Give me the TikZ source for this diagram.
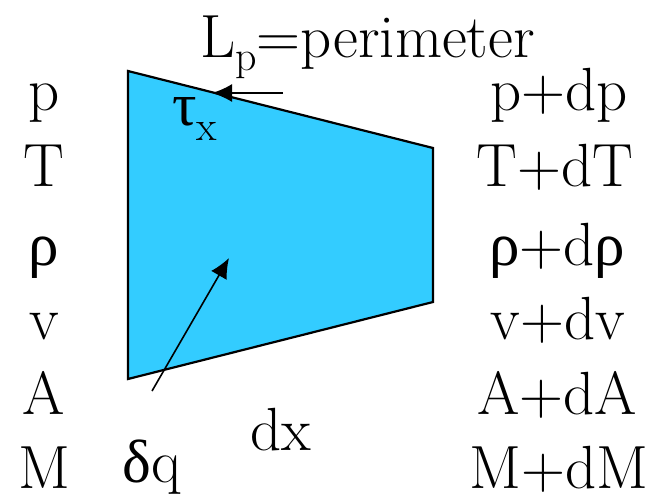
\documentclass[tikz,border=0pt]{standalone}
\usepackage{fontspec}
\newfontfamily\grk{Liberation Serif}
\usetikzlibrary{arrows.meta}
\definecolor{fillblue}{HTML}{33CCFF}
\newcommand{\subtxt}[2]{\raisebox{#1}{\fontsize{42}{42}\selectfont #2}}
\newcommand{\gk}[1]{{\grk #1}}
\begin{document}
\begin{tikzpicture}[x=1pt,y=-1pt,
  lbl/.style={anchor=base,inner sep=0pt,font=\rmfamily\fontsize{61}{68}\selectfont},
  arr/.style={line width=1.6pt,-{Latex[length=20pt,width=18pt]}}]
\useasboundingbox (0,0) rectangle (662,499);
% control volume
\draw[fill=fillblue,line width=2.2pt,line join=miter] (128,71) -- (433,148) -- (433,302) -- (128,379) -- cycle;
% left column
\node[lbl] (pL) at (44,110) {p};
\node[lbl] (TL) at (44,186) {T};
\node[lbl] (rL) at (44,265) {\gk{ρ}};
\node[lbl] (vL) at (44,339) {v};
\node[lbl] (AL) at (44,414) {A};
\node[lbl] (ML) at (44,488) {M};
% right column
\node[lbl] (pR) at (559,110) {p+dp};
\node[lbl] (TR) at (555,186) {T+dT};
\node[lbl] (rR) at (557,265) {\gk{ρ}+d\gk{ρ}};
\node[lbl] (vR) at (558,339) {v+dv};
\node[lbl] (AR) at (557,414) {A+dA};
\node[lbl] (MR) at (559,488) {M+dM};
% labels
\node[lbl,anchor=base west] (Lp) at (200,57) {L\subtxt{-13pt}{p}=perimeter};
\node[lbl,anchor=base west] (tau) at (172,125) {\gk{τ}\subtxt{-15pt}{x}};
\node[lbl] (dq) at (152,482) {\gk{δ}q};
\node[lbl] (dx) at (281,450) {dx};
% arrows
\coordinate (tauS) at (283,93);
\coordinate (tauT) at (212,93);
\draw[arr] (tauS) -- (tauT);
\coordinate (dqS) at (152,391);
\coordinate (dqT) at (229,258);
\draw[arr] (dqS) -- (dqT);
\end{tikzpicture}
\end{document}
